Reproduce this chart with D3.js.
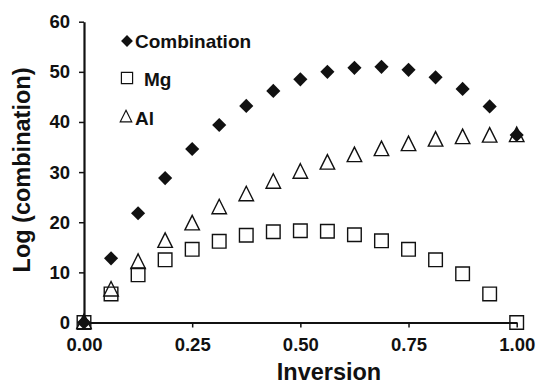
<!DOCTYPE html>
<html>
<head>
<meta charset="utf-8">
<script src="https://cdn.jsdelivr.net/npm/d3@7"></script>
<style>
  html, body { margin: 0; padding: 0; background: #fff; }
  svg { display: block; font-family: "Liberation Sans", Arial, sans-serif; }
</style>
</head>
<body>
<svg id="chart" width="541" height="385"></svg>
<script>
// ---- data ----
const inversion = [0, 0.0625, 0.125, 0.1875, 0.25, 0.3125, 0.375, 0.4375, 0.5,
                   0.5625, 0.625, 0.6875, 0.75, 0.8125, 0.875, 0.9375, 1.0];
const combination = [0, 12.8, 21.8, 28.8, 34.6, 39.4, 43.2, 46.2, 48.5,
                     50.0, 50.8, 51.0, 50.4, 48.9, 46.6, 43.1, 37.4];
const mg = [0, 5.7, 9.5, 12.5, 14.6, 16.2, 17.4, 18.1, 18.3,
            18.2, 17.5, 16.3, 14.6, 12.5, 9.7, 5.7, 0];
const al = [0, 6.5, 12.0, 16.2, 19.7, 22.9, 25.5, 28.0, 30.0,
            31.8, 33.3, 34.5, 35.5, 36.4, 36.9, 37.2, 37.3];
const xTicks = [0, 0.25, 0.5, 0.75, 1.0];
const yTicks = [0, 10, 20, 30, 40, 50, 60];
const seriesNames = ["Combination", "Mg", "Al"];

// ---- layout ----
const svg = d3.select("#chart");
const ink = "#111";
const x = d3.scaleLinear().domain([0, 1]).range([84, 516.7]);
const y = d3.scaleLinear().domain([0, 60]).range([322.5, 21.7]);

// axes
const gx = svg.append("g").attr("transform", `translate(0,${y(0)})`)
  .call(d3.axisBottom(x).tickValues(xTicks).tickFormat(d3.format(".2f"))
        .tickSize(5).tickSizeOuter(0).tickPadding(10));
const gy = svg.append("g").attr("transform", `translate(${x(0)},0)`)
  .call(d3.axisLeft(y).tickValues(yTicks).tickFormat(d3.format("d"))
        .tickSize(5).tickSizeOuter(0).tickPadding(9));
[gx, gy].forEach(g => {
  g.select(".domain").attr("stroke", ink).attr("stroke-width", 2.2);
  g.selectAll(".tick line").attr("stroke", ink).attr("stroke-width", 1.5);
  g.selectAll(".tick text").attr("fill", ink).attr("font-size", 18.5)
    .attr("font-weight", "bold").attr("font-family", '"Liberation Sans", Arial, sans-serif');
});
gx.selectAll(".tick").filter(d => d === 0).select("line").remove();

// axis titles
svg.append("text").attr("x", 329).attr("y", 380).attr("text-anchor", "middle")
  .attr("font-size", 23.5).attr("font-weight", "bold").attr("fill", ink).text("Inversion");
svg.append("text").attr("transform", "translate(30,170) rotate(-90)")
  .attr("text-anchor", "middle").attr("font-size", 23.5).attr("font-weight", "bold")
  .attr("fill", ink).text("Log (combination)");

// marker symbols
const diamond = d3.symbol().type(d3.symbolSquare).size(100)();
const square = d3.symbol().type(d3.symbolSquare).size(185)();
const triangle = (s) => `M0,${-s*0.58}L${s/2},${s*0.42}L${-s/2},${s*0.42}Z`;

const pts = (vals) => inversion.map((v, i) => ({x: v, y: vals[i]}));

// Mg squares
svg.append("g").selectAll("path").data(pts(mg)).join("path")
  .attr("d", square).attr("transform", d => `translate(${x(d.x)},${y(d.y)})`)
  .attr("fill", "none").attr("stroke", ink).attr("stroke-width", 1.4);
// Al triangles
svg.append("g").selectAll("path").data(pts(al)).join("path")
  .attr("d", triangle(14.5)).attr("transform", d => `translate(${x(d.x)},${y(d.y)})`)
  .attr("fill", "none").attr("stroke", ink).attr("stroke-width", 1.4);
// Combination diamonds
svg.append("g").selectAll("path").data(pts(combination)).join("path")
  .attr("d", diamond).attr("transform", d => `translate(${x(d.x)},${y(d.y)}) rotate(45)`)
  .attr("fill", ink);

// legend
const leg = svg.append("g");
leg.append("path").attr("d", d3.symbol().type(d3.symbolSquare).size(70)())
  .attr("transform", "translate(127,41) rotate(45)").attr("fill", ink);
leg.append("path").attr("d", d3.symbol().type(d3.symbolSquare).size(125)())
  .attr("transform", "translate(127,78)").attr("fill", "none").attr("stroke", ink).attr("stroke-width", 1.2);
leg.append("path").attr("d", triangle(11.5))
  .attr("transform", "translate(126,117)").attr("fill", "none").attr("stroke", ink).attr("stroke-width", 1.2);
const legY = [47.6, 85.5, 125];
const legX = [135, 144, 135];
seriesNames.forEach((n, i) => {
  leg.append("text").attr("x", legX[i]).attr("y", legY[i]).attr("font-size", 19)
    .attr("font-weight", "bold").attr("fill", ink).text(n);
});
</script>
</body>
</html>
